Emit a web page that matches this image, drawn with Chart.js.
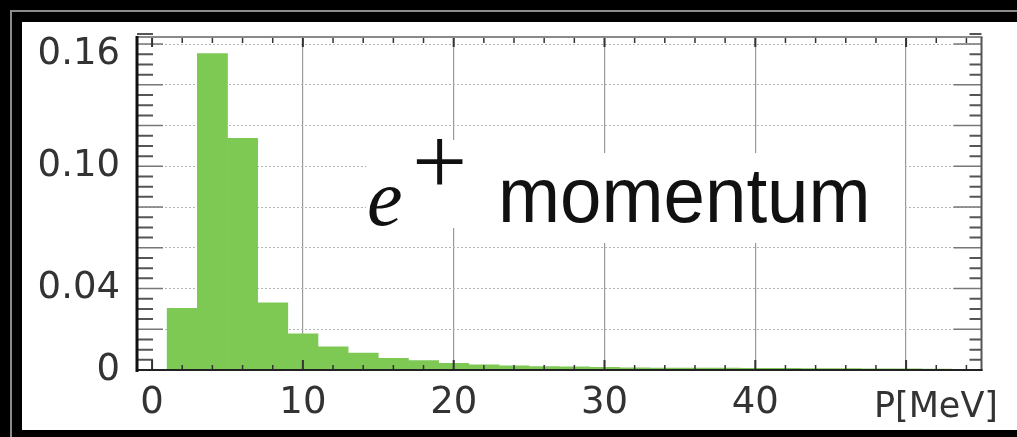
<!DOCTYPE html>
<html>
<head>
<meta charset="utf-8">
<title>e+ momentum</title>
<script src="https://cdn.jsdelivr.net/npm/chart.js@4.4.1/dist/chart.umd.min.js"></script>
<style>
  html, body { margin: 0; padding: 0; background: #000; }
  body { width: 1017px; height: 437px; overflow: hidden; position: relative; }
  .rule { position: absolute; left: 10px; top: 10px; right: 0; bottom: 0; border-left: 2px solid #8c8c8c; border-top: 2px solid #8c8c8c; }
  .panel { position: absolute; left: 22px; top: 22px; width: 995px; height: 408px; background: #fff; }
  .chart-box { position: absolute; left: 0; top: 0; width: 995px; height: 408px; }
  .mask { position: absolute; background: #fff; }
  .txt { position: absolute; line-height: 1; white-space: nowrap; color: #111; }
  #e-sym { left: 345px; top: 136px; font: italic 80px 'Liberation Serif', serif; line-height: 1; }
  #plus { left: 390px; top: 90px; font: 98px 'Liberation Serif', serif; line-height: 1; }
  #mom { left: 476px; top: 134px; font: 78px 'Liberation Sans', sans-serif; line-height: 1; transform: scaleX(0.955); transform-origin: 0 0; }
  #unit { right: 19px; top: 366px; font: 35px 'DejaVu Sans', sans-serif; line-height: 1; color: #333; }
</style>
</head>
<body>
<div class="rule"></div>
<div class="panel">
  <div class="chart-box"><canvas id="momentum-chart"></canvas></div>
  <div class="mask" style="left:344px; top:118px; width:104px; height:88px;"></div>
  <div class="mask" style="left:446px; top:131px; width:435px; height:90px;"></div>
  <div class="txt" id="e-sym">e</div>
  <div class="txt" id="plus">+</div>
  <div class="txt" id="mom">momentum</div>
  <div class="txt" id="unit">P[MeV]</div>
</div>
<script>
// histogram bins (2 MeV wide), centres and normalised counts
const binCenters = [2, 4, 6, 8, 10, 12, 14, 16, 18, 20, 22, 24, 26, 28, 30, 32, 34, 36, 38, 40, 42, 44, 46, 48, 50, 52];
const binHeights = [0.0303, 0.1554, 0.1137, 0.0330, 0.0177, 0.0114, 0.0083, 0.0057, 0.0046, 0.0033, 0.0025, 0.0020, 0.0017,
                    0.0015, 0.0013, 0.0011, 0.0010, 0.0009, 0.0009, 0.0008, 0.0008, 0.0007, 0.0007, 0.0006, 0.0006, 0.0005];

// axes
const X_MIN = -1, X_MAX = 55;
const Y_MIN = 0, Y_MAX = 0.163;
const xTickValues = [0, 10, 20, 30, 40, 50];
const xTickLabels = ['0', '10', '20', '30', '40', ''];
const yTickValues = [0, 0.02, 0.04, 0.06, 0.08, 0.10, 0.12, 0.14, 0.16];
const yLabelValues = [0, 0.04, 0.10, 0.16];
const yLabelTexts = ['0', '0.04', '0.10', '0.16'];
const X_MINOR = 2, Y_MINOR = 0.005;

const BAR_GREEN = '#7ec854';
const TICK_FONT = "'DejaVu Sans', sans-serif";

function yLabel(v) {
  const i = yLabelValues.findIndex(l => Math.abs(l - v) < 1e-9);
  if (i < 0) return '';
  // top label sits a bit lower than its grid line in the original
  return i === yLabelValues.length - 1 ? ['', yLabelTexts[i]] : yLabelTexts[i];
}

/* -------- frame + inside tick marks -------- */
const frameTicks = {
  id: 'frameTicks',
  afterDatasetsDraw(chart) {
    const { ctx, chartArea: a, scales: { x, y } } = chart;
    ctx.save();
    ctx.lineCap = 'butt';

    // left & right: minor every 0.005, long ones on the 0.02 grid
    const nY = Math.round(Y_MAX / Y_MINOR);
    for (let k = 0; k <= nY; k++) {
      const py = y.getPixelForValue(k * Y_MINOR);
      const major = k % 4 === 0;
      ctx.strokeStyle = major ? '#777' : '#555';
      ctx.lineWidth = major ? 1.5 : 2;
      ctx.beginPath();
      ctx.moveTo(a.left, py); ctx.lineTo(a.left + (major ? 26 : 16), py);
      ctx.moveTo(a.right, py); ctx.lineTo(a.right - (major ? 28 : 12), py);
      ctx.stroke();
    }

    // top & bottom: every 2 MeV, longer on the tens
    for (let v = 0; v <= X_MAX; v += X_MINOR) {
      const px = x.getPixelForValue(v);
      const major = v % 10 === 0;
      ctx.strokeStyle = '#333';
      ctx.lineWidth = major ? 2 : 1.5;
      ctx.beginPath();
      ctx.moveTo(px, a.top); ctx.lineTo(px, a.top + (major ? 9 : 5));
      ctx.moveTo(px, a.bottom); ctx.lineTo(px, a.bottom - (major ? 10 : 5));
      ctx.stroke();
    }

    // frame
    const line = (x1, y1, x2, y2, c, w) => {
      ctx.strokeStyle = c; ctx.lineWidth = w;
      ctx.beginPath(); ctx.moveTo(x1, y1); ctx.lineTo(x2, y2); ctx.stroke();
    };
    line(a.left, a.top - 1, a.right + 1, a.top - 1, '#8a8a8a', 2);
    line(a.right, a.top - 1, a.right, a.bottom + 1, '#555', 2);
    line(a.left - 1, a.bottom, a.right + 1, a.bottom, '#222', 2);
    line(a.left, a.top - 2, a.left, a.bottom + 2, '#111', 3);
    ctx.restore();
  }
};

function renderMomentumChart() {
  const ctx = document.getElementById('momentum-chart');
  const data = binCenters.map((c, i) => ({ x: c, y: binHeights[i] }));

  new Chart(ctx.getContext('2d'), {
    type: 'bar',
    data: {
      datasets: [{
        data,
        backgroundColor: BAR_GREEN,
        borderWidth: 0,
        barPercentage: 1,
        categoryPercentage: 1
      }]
    },
    options: {
      responsive: true, maintainAspectRatio: false,
      animation: false,
      layout: { padding: { top: 16, right: 35.5, left: 0, bottom: 0 } },
      plugins: { legend: { display: false }, tooltip: { enabled: false } },
      scales: {
        x: {
          type: 'linear', min: X_MIN, max: X_MAX, offset: false,
          afterBuildTicks: s => { s.ticks = xTickValues.map(v => ({ value: v })); },
          afterFit: s => { s.height = 60; s.paddingLeft = 0; s.paddingRight = 0; },
          grid: {
            offset: false,
            drawTicks: false,
            color: c => (c.tick && c.tick.value === 0) ? 'rgba(0,0,0,0)' : '#9a9a9a',
            lineWidth: 1.2
          },
          border: { display: false, dash: [] },
          ticks: {
            padding: 11, color: '#333', maxRotation: 0, autoSkip: false,
            font: { family: TICK_FONT, size: 37 },
            callback: v => xTickLabels[xTickValues.indexOf(v)] ?? ''
          }
        },
        y: {
          min: Y_MIN, max: Y_MAX,
          afterBuildTicks: s => { s.ticks = yTickValues.map(v => ({ value: v })); },
          afterFit: s => { s.width = 115; s.paddingTop = 0; s.paddingBottom = 0; },
          grid: {
            drawTicks: false,
            color: c => (c.tick && c.tick.value === 0) ? 'rgba(0,0,0,0)' : '#b4b4b4',
            lineWidth: 1
          },
          border: { display: false, dash: [2, 2] },
          ticks: {
            padding: 17, color: '#333', autoSkip: false,
            font: c => ({
              family: TICK_FONT, size: 37,
              lineHeight: (c.tick && Math.abs(c.tick.value - 0.16) < 1e-9) ? '20px' : 1.2
            }),
            callback: v => yLabel(v)
          }
        }
      }
    },
    plugins: [frameTicks]
  });
}

renderMomentumChart();
</script>
</body>
</html>
